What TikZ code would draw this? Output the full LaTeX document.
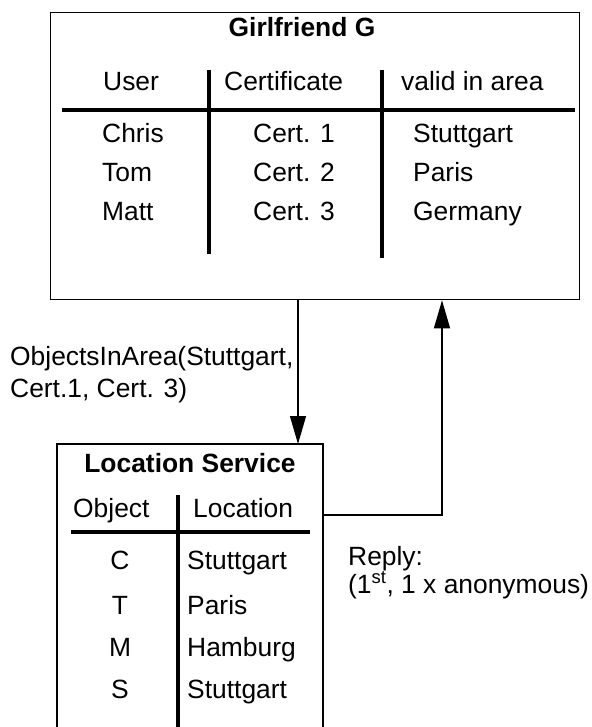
\documentclass[tikz,border=0pt]{standalone}
\usepackage{fontspec}
\setmainfont{Liberation Sans}
\usetikzlibrary{arrows.meta}
\begin{document}
\begin{tikzpicture}[x=1pt,y=-1pt,
  txt/.style={inner sep=0pt,anchor=base west,font=\fontsize{26.4}{30}\selectfont},
  ctxt/.style={inner sep=0pt,anchor=base,font=\fontsize{26.4}{30}\selectfont},
  ttl/.style={inner sep=0pt,anchor=base,font=\fontsize{26.4}{30}\selectfont\bfseries},
  frame/.style={draw,line width=1.3pt},
  rule/.style={line width=4.5pt},
  flow/.style={line width=1.3pt,-{Triangle[length=28pt,width=16pt]}}]
\useasboundingbox (0,0) rectangle (591,727);

% Girlfriend G with its certificate table
\node[frame,inner sep=0pt,minimum width=529pt,minimum height=287pt,anchor=north west] (gf) at (50,12) {};
\node[ttl] (gftitle) at (302,37) {Girlfriend G};
\node[txt] (hUser) at (103,91) {User};
\node[txt] (hCert) at (224,91) {Certificate};
\node[txt] (hArea) at (401,91) {valid in area};
\draw[rule] (62,110) -- (575,110);
\draw[rule] (209,70) -- (209,254);
\draw[rule] (382,70) -- (382,258);
\node[txt] (u1) at (102,143) {Chris};
\node[txt] (u2) at (102,182) {Tom};
\node[txt] (u3) at (102,221) {Matt};
\node[txt] (c1) at (253,143) {Cert. 1};
\node[txt] (c2) at (253,182) {Cert. 2};
\node[txt] (c3) at (253,221) {Cert. 3};
\node[txt] (a1) at (413,143) {Stuttgart};
\node[txt] (a2) at (413,182) {Paris};
\node[txt] (a3) at (413,221) {Germany};

% Location Service, open at the bottom
\coordinate (lsbl) at (57,740);
\coordinate (lsbr) at (323,740);
\coordinate (lstl) at (57,444);
\coordinate (lstr) at (323,444);
\draw[line width=1.3pt] (lsbl) -- (lstl) -- (lstr) -- (lsbr);
\node[ttl] (lstitle) at (190,472) {Location Service};
\node[txt] (hObj) at (73,517) {Object};
\node[txt] (hLoc) at (193,517) {Location};
\draw[rule] (71,532) -- (310,532);
\draw[rule] (178,495) -- (178,740);
\node[ctxt] (o1) at (120,569) {C};
\node[ctxt] (o2) at (120,614) {T};
\node[ctxt] (o3) at (120,656) {M};
\node[ctxt] (o4) at (120,698) {S};
\node[txt] (l1) at (187,569) {Stuttgart};
\node[txt] (l2) at (187,614) {Paris};
\node[txt] (l3) at (187,656) {Hamburg};
\node[txt] (l4) at (187,698) {Stuttgart};

% request and reply
\coordinate (reqtop) at (298,299);
\draw[flow] (reqtop) -- (lstl -| reqtop);
\coordinate (repstart) at (323,515);
\coordinate (repcorner) at (442,515);
\draw[flow] (repstart) -- (repcorner) -- (repcorner |- gf.south);
\node[txt] (req1) at (10,365) {ObjectsInArea(Stuttgart,};
\node[txt] (req2) at (10,397) {Cert.1, Cert. 3)};
\node[txt] (rep1) at (348,565) {Reply:};
\node[txt] (rep2) at (348,593) {(1\textsuperscript{st}, 1 x anonymous)};
\end{tikzpicture}
\end{document}
